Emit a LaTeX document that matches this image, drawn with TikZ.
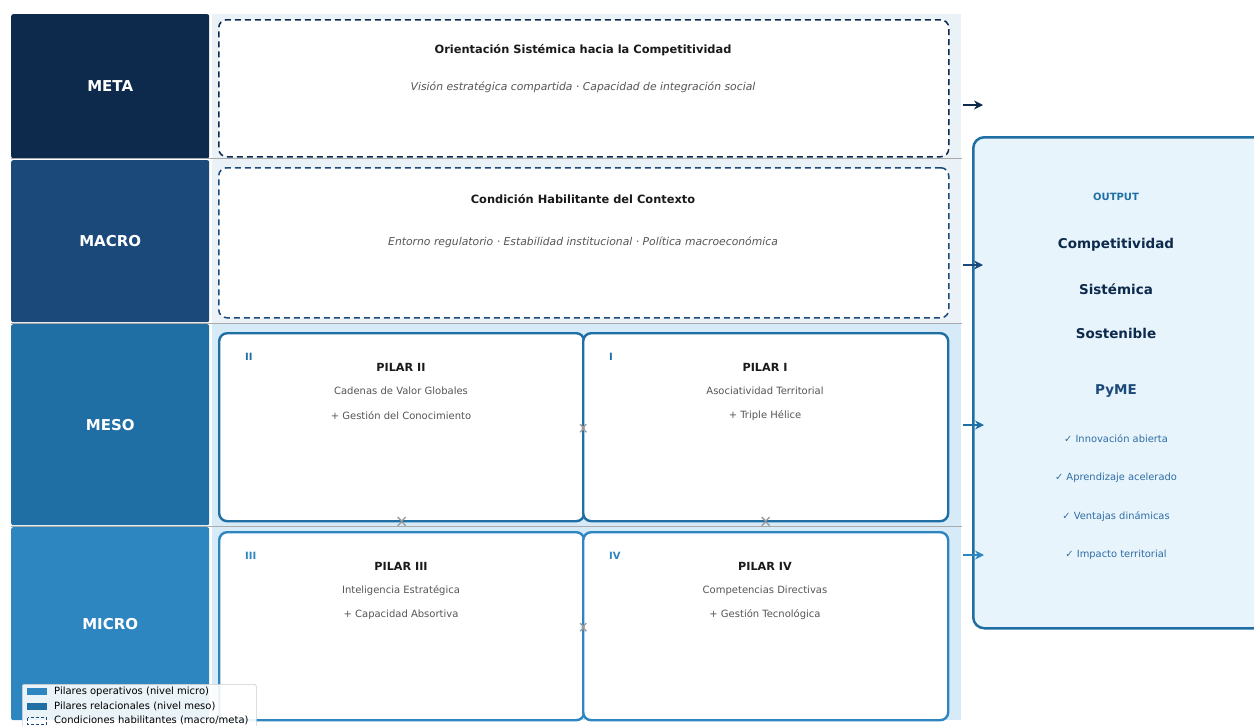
\documentclass[tikz,border=0pt]{standalone}
\usepackage{fontspec}
\setmainfont{DejaVu Sans}
\usetikzlibrary{arrows.meta}
\definecolor{cMeta}{HTML}{0D2A4C}
\definecolor{cMacro}{HTML}{1B4A7A}
\definecolor{cMeso}{HTML}{1F6FA5}
\definecolor{cMicro}{HTML}{2E86C1}
\definecolor{bandA}{HTML}{EAF2F8}
\definecolor{bandB}{HTML}{D6EAF8}
\definecolor{outFill}{HTML}{E8F4FC}
\definecolor{txtDark}{HTML}{1A1A1A}
\definecolor{txtGray}{HTML}{555555}
\definecolor{sepGray}{HTML}{AAAAAA}
\definecolor{chkBlue}{HTML}{2E6DA4}
\definecolor{markGray}{HTML}{999999}
\begin{document}
\begin{tikzpicture}[x=1pt,y=-1pt,
  levelbox/.style={anchor=north west,rectangle,rounded corners=2pt,minimum width=198pt,
    text=white,font=\fontsize{15}{17}\selectfont\bfseries,inner sep=0pt},
  condbox/.style={anchor=north west,rectangle,rounded corners=8pt,fill=white,dashed,
    dash pattern=on 6pt off 4pt,line width=1.5pt,minimum width=730pt,inner sep=0pt},
  pilarbox/.style={anchor=north west,rectangle,rounded corners=8pt,fill=white,line width=2.4pt,
    minimum width=365pt,minimum height=188pt,inner sep=0pt},
  ttl/.style={font=\fontsize{11.4}{13}\selectfont\bfseries,text=txtDark,inner sep=0pt},
  sub/.style={font=\fontsize{10.8}{13}\selectfont\itshape,text=txtGray,inner sep=0pt},
  ptl/.style={font=\fontsize{11.2}{13}\selectfont\bfseries,text=txtDark,inner sep=0pt},
  pln/.style={font=\fontsize{10}{12}\selectfont,text=txtGray,inner sep=0pt},
  pnum/.style={font=\fontsize{10}{12}\selectfont\bfseries,inner sep=0pt,anchor=west},
  smallarr/.style={draw=markGray,line width=1.3pt,
    {Straight Barb[reversed,length=4pt,width=8pt]}-{Straight Barb[reversed,length=4pt,width=8pt]}},
  outarr/.style={line width=1.8pt,-{Stealth[length=9pt,width=9pt]}},
  otxt/.style={font=\fontsize{13.5}{16}\selectfont\bfseries,text=cMeta,inner sep=0pt},
  chk/.style={font=\fontsize{9.9}{12}\selectfont,text=chkBlue,inner sep=0pt},
  legtxt/.style={font=\fontsize{10}{12}\selectfont,text=black,inner sep=0pt,anchor=west}
]
\useasboundingbox (0,0) rectangle (1254,726);

% bands
\fill[bandA] (212,14) rectangle (961,323);
\fill[bandB] (212,323) rectangle (961,720);

% level boxes
\node[levelbox,fill=cMeta,minimum height=144pt] (meta) at (11,14) {META};
\node[levelbox,fill=cMacro,minimum height=162pt] (macro) at (11,160) {MACRO};
\node[levelbox,fill=cMeso,minimum height=201pt] (meso) at (11,324) {MESO};
\node[levelbox,fill=cMicro,minimum height=193pt] (micro) at (11,527) {MICRO};

% separators
\draw[sepGray,line width=1pt] (11,158.5) -- (962,158.5);
\draw[sepGray,line width=0.8pt] (11,323) -- (962,323);
\draw[sepGray,line width=0.8pt] (11,526) -- (962,526);

% condition boxes
\node[condbox,draw=cMeta,minimum height=137pt] (cmeta) at (218,19) {};
\node[ttl] (tmeta) at (583,50) {Orientación Sistémica hacia la Competitividad};
\node[sub] (smeta) at (583,87) {Visión estratégica compartida · Capacidad de integración social};
\node[condbox,draw=cMacro,minimum height=150pt] (cmacro) at (218,167) {};
\node[ttl] (tmacro) at (583,199) {Condición Habilitante del Contexto};
\node[sub] (smacro) at (583,242) {Entorno regulatorio · Estabilidad institucional · Política macroeconómica};

% pillars
\node[pilarbox,draw=cMeso] (pII) at (218,332) {};
\node[pilarbox,draw=cMeso] (pI) at (582,332) {};
\node[pilarbox,draw=cMicro] (pIII) at (218,531) {};
\node[pilarbox,draw=cMicro] (pIV) at (582,531) {};

\node[pnum,text=cMeso] (nII) at (245,357) {II};
\node[ptl] (tII) at (401,367) {PILAR II};
\node[pln] (aII) at (401,391) {Cadenas de Valor Globales};
\node[pln] (bII) at (401,416) {+ Gestión del Conocimiento};

\node[pnum,text=cMeso] (nI) at (609,357) {I};
\node[ptl] (tI) at (765,367) {PILAR I};
\node[pln] (aI) at (765,391) {Asociatividad Territorial};
\node[pln] (bI) at (765,416) {+ Triple Hélice};

\node[pnum,text=cMicro] (nIII) at (245,556) {III};
\node[ptl] (tIII) at (401,566) {PILAR III};
\node[pln] (aIII) at (401,591) {Inteligencia Estratégica};
\node[pln] (bIII) at (401,615) {+ Capacidad Absortiva};

\node[pnum,text=cMicro] (nIV) at (609,556) {IV};
\node[ptl] (tIV) at (765,566) {PILAR IV};
\node[pln] (aIV) at (765,591) {Competencias Directivas};
\node[pln] (bIV) at (765,615) {+ Gestión Tecnológica};

% small connectors between pillars
\draw[smallarr] ([xshift=-6pt,yshift=-1pt]pII.east) -- ([xshift=5pt,yshift=-1pt]pI.west);
\draw[smallarr] ([xshift=-6pt,yshift=-1pt]pIII.east) -- ([xshift=5pt,yshift=-1pt]pIV.west);
\draw[smallarr] ([yshift=6pt]pII.south) -- ([yshift=-4pt]pII.south);
\draw[smallarr] ([yshift=6pt]pI.south) -- ([yshift=-4pt]pI.south);

% output box
\node[anchor=north west,rectangle,rounded corners=11pt,fill=outFill,draw=cMeso,line width=2.5pt,
  minimum width=292pt,minimum height=491pt,inner sep=0pt] (out) at (972,136) {};
\node[font=\fontsize{10}{12}\selectfont\bfseries,text=cMeso,inner sep=0pt] (oh) at (1116,197) {OUTPUT};
\node[otxt] (o1) at (1116,245) {Competitividad};
\node[otxt] (o2) at (1116,289) {Sistémica};
\node[otxt] (o3) at (1116,333) {Sostenible};
\node[otxt,text=cMacro] (o4) at (1116,391) {PyME};
\node[chk] (k1) at (1116,439) {✓ Innovación abierta};
\node[chk] (k2) at (1116,478) {✓ Aprendizaje acelerado};
\node[chk] (k3) at (1116,517) {✓ Ventajas dinámicas};
\node[chk] (k4) at (1116,555) {✓ Impacto territorial};

% arrows to output
\coordinate (a1s) at (963,105); \coordinate (a1e) at (983,105);
\coordinate (a2s) at (963,265); \coordinate (a2e) at (983,265);
\coordinate (a3s) at (963,425); \coordinate (a3e) at (984,425);
\coordinate (a4s) at (963,555); \coordinate (a4e) at (984,555);
\draw[outarr,draw=cMeta,fill=cMeta] (a1s) -- (a1e);
\draw[outarr,draw=cMacro,fill=cMacro] (a2s) -- (a2e);
\draw[outarr,draw=cMeso,fill=cMeso,line width=2.6pt] (a3s) -- (a3e);
\draw[outarr,draw=cMicro,fill=cMicro,line width=2.6pt] (a4s) -- (a4e);

% legend
\node[anchor=north west,rectangle,rounded corners=2pt,fill=white,fill opacity=0.9,draw=gray!40,
  line width=0.6pt,minimum width=234pt,minimum height=46pt,inner sep=0pt] (leg) at (22,684) {};
\fill[cMicro] (27,688) rectangle (47,695);
\node[legtxt] (l1) at (54,692) {Pilares operativos (nivel micro)};
\fill[cMeso] (27,703) rectangle (47,710);
\node[legtxt] (l2) at (54,706) {Pilares relacionales (nivel meso)};
\draw[cMacro,dashed,dash pattern=on 3pt off 2pt,line width=1pt] (27.5,717.5) rectangle (46.5,724);
\node[legtxt] (l3) at (54,720) {Condiciones habilitantes (macro/meta)};
\end{tikzpicture}
\end{document}
